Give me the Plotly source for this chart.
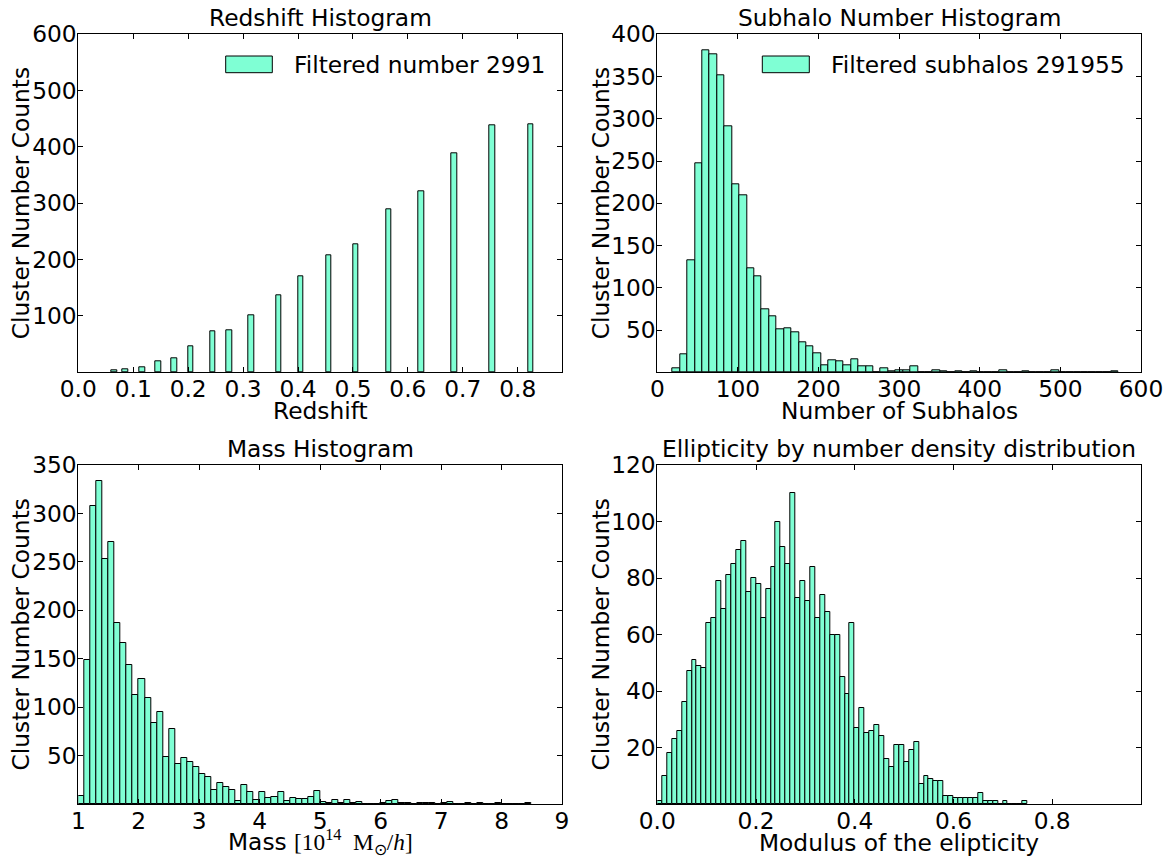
import plotly.graph_objects as go

W, H = 1169, 857

# ---------------- data ----------------
# Redshift histogram (narrow bins at discrete snapshot redshifts)
redshift_centres = [0.066, 0.086, 0.116, 0.146, 0.175, 0.205, 0.245, 0.275, 0.315,
                    0.365, 0.405, 0.456, 0.505, 0.565, 0.625, 0.684, 0.754, 0.824]
redshift_counts = [4, 6, 9, 20, 25, 46, 73, 75, 102,
                   137, 170, 207, 228, 290, 321, 389, 438, 441]
redshift_bin_width = 0.0104

# Subhalo number histogram
subhalo_bin_start = 19.0
subhalo_bin_width = 9.2167
subhalo_counts = [5, 21, 132, 247, 381, 376, 352, 291, 222, 210,
                  123, 114, 75, 66, 51, 52, 47, 35, 31, 23,
                  8, 14, 13, 8, 15, 7, 7, 0, 5, 1,
                  2, 2, 7, 0, 0, 2, 1, 0, 1, 0,
                  1, 0, 0, 0, 2, 0, 0, 1, 0, 0,
                  0, 2, 0, 0, 0, 0, 0, 0, 0, 1]

# Mass histogram
mass_bin_start = 1.0
mass_bin_width = 0.1
mass_counts = [8, 149, 308, 334, 253, 270, 187, 166, 144, 113,
               129, 109, 84, 95, 49, 77, 41, 47, 43, 38,
               31, 28, 14, 22, 18, 14, 3, 20, 12, 4,
               12, 6, 7, 12, 3, 6, 5, 5, 7, 13,
               2, 1, 4, 1, 4, 1, 2, 0, 0, 0,
               1, 3, 4, 1, 1, 0, 1, 1, 1, 0,
               1, 2, 0, 0, 1, 0, 1, 0, 0, 1,
               0, 0, 0, 0, 1]

# Ellipticity histogram
ell_bin_start = 0.0
ell_bin_width = 0.01
ell_counts = [1, 10, 18, 23, 26, 36, 47, 51, 49, 48,
              64, 66, 79, 69, 81, 85, 90, 93, 75, 80,
              78, 66, 76, 84, 100, 91, 85, 110, 73, 79,
              72, 84, 66, 74, 68, 60, 60, 45, 39, 64,
              27, 34, 25, 26, 28, 24, 16, 13, 21, 21,
              15, 19, 22, 7, 10, 9, 8, 8, 3, 3,
              2, 2, 2, 2, 2, 4, 1, 1, 1, 0,
              1, 0, 0, 0, 1]

titles = ["Redshift Histogram", "Subhalo Number Histogram",
          "Mass Histogram", "Ellipticity by number density distribution"]
xlabels = ["Redshift", "Number of Subhalos",
           'Mass <span style="font-family:Liberation Serif">[10<sup>14</sup>  M<sub>⊙</sub>/<i>h</i>]</span>',
           "Modulus of the elipticity"]
ylabel = "Cluster Number Counts"
legend_texts = ["Filtered number 2991", "Filtered subhalos 291955"]

# ---------------- style ----------------
FILL = "#7FFFD4"
FONT = "DejaVu Sans"
FS = 23.3

def centres(start, width, counts):
    return [start + (i + 0.5) * width for i in range(len(counts))]

# panel pixel boxes: (left, right, top, bottom)
boxes = [(78.3, 561.7, 34.3, 372.3), (657.3, 1141.0, 34.3, 372.3),
         (78.3, 562.0, 465.0, 804.0), (657.3, 1141.0, 465.0, 804.0)]

fig = go.Figure()

series = [
    (redshift_centres, redshift_counts, redshift_bin_width),
    (centres(subhalo_bin_start, subhalo_bin_width, subhalo_counts), subhalo_counts, subhalo_bin_width),
    (centres(mass_bin_start, mass_bin_width, mass_counts), mass_counts, mass_bin_width),
    (centres(ell_bin_start, ell_bin_width, ell_counts), ell_counts, ell_bin_width),
]

for i, (xs, ys, w) in enumerate(series):
    sfx = "" if i == 0 else str(i + 1)
    fig.add_trace(go.Bar(x=xs, y=ys, width=w,
                         marker=dict(color=FILL, line=dict(color="black", width=1)),
                         xaxis="x" + sfx, yaxis="y" + sfx, showlegend=False))

xranges = [[0, 0.88], [0, 600], [1, 9], [0, 0.98]]
yranges = [[0, 600], [0, 400], [0, 350], [0, 120]]
xticks = [[round(0.1 * k, 1) for k in range(9)], list(range(0, 601, 100)),
          list(range(1, 10)), [0.0, 0.2, 0.4, 0.6, 0.8]]
xfmt = [".1f", "d", "d", ".1f"]
yticks = [list(range(100, 601, 100)), list(range(50, 401, 50)),
          list(range(50, 351, 50)), list(range(20, 121, 20))]

common = dict(showline=True, linecolor="black", linewidth=1, mirror="ticks",
              ticks="inside", ticklen=5, tickcolor="black", tickwidth=1,
              showgrid=False, zeroline=False, automargin=False,
              ticklabelstandoff=-4,
              tickfont=dict(family=FONT, size=FS, color="black"))

layout = {}
annotations = []
shapes = []
for i, (l, r, t, b) in enumerate(boxes):
    sfx = "" if i == 0 else str(i + 1)
    layout["xaxis" + sfx] = dict(common, domain=[l / W, r / W], range=xranges[i],
                                 tickvals=xticks[i], tickformat=xfmt[i],
                                 anchor="y" + sfx)
    layout["yaxis" + sfx] = dict(common, domain=[1 - b / H, 1 - t / H], range=yranges[i],
                                 tickvals=yticks[i], anchor="x" + sfx)
    cx = (l + r) / 2 / W
    annotations.append(dict(text=titles[i], x=cx, y=1 - t / H, xref="paper", yref="paper",
                            xanchor="center", yanchor="bottom", yshift=1, showarrow=False,
                            font=dict(family=FONT, size=FS, color="black")))
    annotations.append(dict(text=xlabels[i], x=cx, y=1 - (b + 38) / H, xref="paper", yref="paper",
                            xanchor="center", yanchor="middle", showarrow=False,
                            font=dict(family=FONT, size=FS, color="black")))
    ylx = 20 if i % 2 == 0 else 600
    annotations.append(dict(text=ylabel, x=ylx / W, y=1 - (t + b) / 2 / H, xref="paper", yref="paper",
                            xanchor="center", yanchor="middle", textangle=-90, showarrow=False,
                            font=dict(family=FONT, size=FS, color="black")))

# legends (top panels)
legend_pos = [(225.7, 272.3, 292.0), (762.3, 809.3, 829.0)]
for (pl, pr, tx), txt in zip(legend_pos, legend_texts):
    shapes.append(dict(type="rect", xref="paper", yref="paper",
                       x0=pl / W, x1=pr / W, y0=1 - 72.7 / H, y1=1 - 56.0 / H,
                       fillcolor=FILL, line=dict(color="black", width=1)))
    annotations.append(dict(text=txt, x=tx / W, y=1 - 64.5 / H, xref="paper", yref="paper",
                            xanchor="left", yanchor="middle", showarrow=False,
                            font=dict(family=FONT, size=FS, color="black")))

fig.update_layout(**layout)
fig.update_layout(width=W, height=H, margin=dict(l=0, r=0, t=0, b=0, autoexpand=False),
                  paper_bgcolor="white", plot_bgcolor="white",
                  bargap=0, barmode="overlay",
                  annotations=annotations, shapes=shapes,
                  font=dict(family=FONT, color="black"))

fig.write_html("out.html")
